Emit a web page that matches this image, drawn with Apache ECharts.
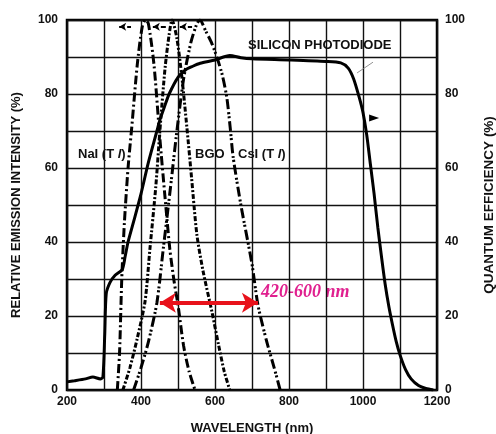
<!DOCTYPE html>
<html>
<head>
<meta charset="utf-8">
<script src="https://cdn.jsdelivr.net/npm/echarts@6/dist/echarts.min.js"></script>
<style>
  html, body { margin: 0; padding: 0; background: #fff; }
  #chart { width: 496px; height: 434px; }
</style>
</head>
<body>
<div id="chart"></div>
<script>
// Emission spectra of scintillators (left axis) and silicon photodiode QE (right axis)
const xTicks = [200, 400, 600, 800, 1000, 1200];
const yTicks = [0, 20, 40, 60, 80, 100];

const siNm  = [200, 220, 250, 270, 290, 297, 302, 306, 316, 330, 349, 357, 365, 380, 400, 420, 443, 451, 465, 476, 500, 520, 540, 560, 600, 640, 670, 700, 800, 900, 940, 960, 975, 990, 1000, 1010, 1020, 1030, 1040, 1050, 1060, 1070, 1080, 1090, 1100, 1115, 1130, 1150, 1170, 1190];
const siQE  = [2.2, 2.5, 3, 3.5, 3, 3.5, 15, 26, 29, 31, 32.5, 36, 40, 45.5, 53, 61.5, 70, 73, 77, 80, 84.5, 86.5, 87.5, 88.3, 89.2, 90.4, 89.8, 89.5, 89.2, 88.8, 88.4, 87, 84, 79, 75, 69, 61, 53, 44, 36, 28.5, 22.5, 17.5, 13, 9.5, 5.5, 3, 1.2, 0.4, 0];

const naiNm  = [336, 342, 348, 355, 365, 375, 390, 403, 412, 420, 435, 451, 465, 478, 490, 500, 515, 530, 546];
const naiInt = [0, 10, 30, 45, 60, 71, 88, 98, 100, 99, 88, 68, 52, 38, 29, 23, 12, 5, 0];

const bgoNm  = [351, 370, 390, 411, 424, 440, 451, 465, 476, 484, 497, 510, 524, 537, 551, 568, 592, 610, 625, 640];
const bgoInt = [0, 6, 14, 24, 38, 55, 70, 87, 96, 100, 95, 85, 71, 57, 42, 32, 21, 12, 5, 0];

const csiNm  = [380, 400, 420, 443, 460, 480, 497, 515, 535, 551, 559, 575, 590, 605, 620, 632, 641, 649, 670, 700, 716, 740, 760, 776];
const csiInt = [0, 6, 13, 23.6, 38, 55, 70, 84, 94, 99, 100, 97, 94, 90, 85, 79, 71, 63, 50, 34, 23, 13, 6, 0];

// Range bracket drawn in red
const bandNm = [451, 716];
const bandLevel = 23.6;

// Short dashed pointers near the peaks
const pointerNm = [[341, 373], [432, 470], [505, 538]];
const pointerLevel = 98.2;

const zip = (a, b) => a.map((v, i) => [v, b[i]]);
const FONT = 'Liberation Sans';
const INK = '#111';

const chart = echarts.init(document.getElementById('chart'), null, { renderer: 'canvas' });

const curveStyle = (dash) => ({ color: '#000', width: 3, type: dash, cap: 'butt' });
const tickLabel = (list) => ({ fontFamily: FONT, fontWeight: 'bold', fontSize: 12, color: INK,
  formatter: v => list.includes(v) ? String(v) : '' });
const nameStyle = (size) => ({ fontFamily: FONT, fontWeight: 'bold', fontSize: size, color: INK });
const labelStyle = (text) => ({ text, fontFamily: FONT, fontWeight: 'bold', fontSize: 13, fill: INK,
  rich: { i: { fontStyle: 'italic', fontFamily: FONT, fontWeight: 'bold', fontSize: 13, fill: INK } } });

chart.setOption({
  animation: false,
  backgroundColor: '#fff',
  grid: { left: 67, top: 20, width: 370, height: 370, outerBoundsMode: 'none', containLabel: false,
    show: true, borderColor: '#000', borderWidth: 2.5, backgroundColor: 'transparent' },
  xAxis: {
    type: 'value', min: 200, max: 1200, interval: 100,
    name: 'WAVELENGTH (nm)', nameLocation: 'middle', nameGap: 32,
    nameTextStyle: nameStyle(13),
    axisLine: { show: false }, axisTick: { show: false },
    axisLabel: Object.assign({ margin: 6 }, tickLabel(xTicks)),
    splitLine: { show: true, lineStyle: { color: INK, width: 1.4 } }
  },
  yAxis: [
    {
      type: 'value', min: 0, max: 100, interval: 10, position: 'left',
      name: 'RELATIVE EMISSION INTENSITY (%)', nameLocation: 'middle', nameGap: 44, nameRotate: 90,
      nameTextStyle: nameStyle(13),
      axisLine: { show: false }, axisTick: { show: false },
      axisLabel: Object.assign({ margin: 9 }, tickLabel(yTicks)),
      splitLine: { show: true, lineStyle: { color: INK, width: 1.4 } }
    },
    {
      type: 'value', min: 0, max: 100, interval: 10, position: 'right',
      name: 'QUANTUM EFFICIENCY (%)', nameLocation: 'middle', nameGap: 45, nameRotate: 90,
      nameTextStyle: nameStyle(13.5),
      axisLine: { show: false }, axisTick: { show: false },
      axisLabel: Object.assign({ margin: 8 }, tickLabel(yTicks)),
      splitLine: { show: false }
    }
  ],
  series: [
    {
      name: 'SILICON PHOTODIODE', type: 'line', yAxisIndex: 1, data: zip(siNm, siQE),
      smooth: 0.25, symbol: 'none', z: 5,
      lineStyle: { color: '#000', width: 3 },
      markPoint: {
        symbol: 'triangle', symbolSize: [7, 10], symbolRotate: -90, silent: true,
        itemStyle: { color: '#000' }, label: { show: false },
        data: [{ coord: [1030, 73.5] }]
      },
      markLine: {
        symbol: 'none', silent: true, label: { show: false },
        lineStyle: { color: '#777', width: 0.8, type: 'solid' },
        data: [[{ coord: [984, 85.7] }, { coord: [1027, 88.6] }]]
      }
    },
    {
      name: 'NaI', type: 'line', data: zip(naiNm, naiInt),
      smooth: 0.25, symbol: 'none', z: 4,
      lineStyle: curveStyle([9, 3, 2, 3])
    },
    {
      name: 'BGO', type: 'line', data: zip(bgoNm, bgoInt),
      smooth: 0.25, symbol: 'none', z: 4,
      lineStyle: curveStyle([5, 2, 2, 2])
    },
    {
      name: 'CsI', type: 'line', data: zip(csiNm, csiInt),
      smooth: 0.25, symbol: 'none', z: 4,
      lineStyle: curveStyle([10, 3, 2, 2, 2, 3])
    },
    {
      name: 'pointers', type: 'line', data: [],
      markLine: {
        silent: true, symbol: ['arrow', 'none'], symbolSize: [6, 7], label: { show: false },
        lineStyle: { color: '#000', width: 2, type: [5, 3] },
        data: pointerNm.map(p => [{ coord: [p[0], pointerLevel] }, { coord: [p[1], pointerLevel] }])
      }
    },
    {
      name: 'range', type: 'line', data: [],
      markLine: {
        silent: true, symbol: ['arrow', 'arrow'], symbolSize: [15, 16], label: { show: false },
        lineStyle: { color: '#e8121b', width: 4, type: 'solid' },
        data: [[{ coord: [bandNm[0], bandLevel] }, { coord: [bandNm[1], bandLevel] }]]
      }
    }
  ],
  graphic: [
    { type: 'text', left: 78, top: 148, style: labelStyle('NaI (T {i|l})') },
    { type: 'text', left: 195, top: 148, style: labelStyle('BGO') },
    { type: 'text', left: 238, top: 148, style: labelStyle('CsI (T {i|l})') },
    { type: 'text', left: 248, top: 39, style: labelStyle('SILICON PHOTODIODE') },
    { type: 'text', left: 261, top: 283, style: { text: '420-600 nm', fontFamily: 'Liberation Serif', fontStyle: 'italic', fontWeight: 'bold', fontSize: 18, fill: '#e0208f' } }
  ]
});
</script>
</body>
</html>
